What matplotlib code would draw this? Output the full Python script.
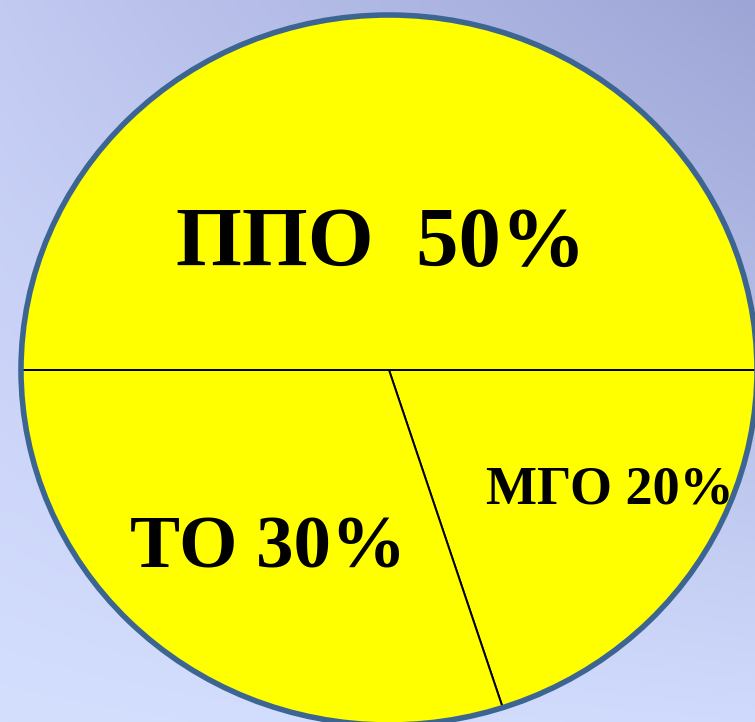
import numpy as np
import matplotlib.pyplot as plt

# Données
labels = ['МГО 20%', 'ТО 30%', 'ППО  50%']
values = [20, 30, 50]

W, H = 755, 722
fig = plt.figure(figsize=(W / 100, H / 100), dpi=100)

# Fond dégradé (coins : haut-gauche, haut-droit, bas-gauche, bas-droit)
tl = np.array([194, 202, 242]) / 255
tr = np.array([156, 165, 213]) / 255
bl = np.array([212, 222, 253]) / 255
br = np.array([208, 218, 252]) / 255
u = np.linspace(0, 1, 200)[None, :, None]
v = np.linspace(0, 1, 200)[:, None, None]
grad = (1 - v) * ((1 - u) * tl + u * tr) + v * ((1 - u) * bl + u * br)
bg = fig.add_axes([0, 0, 1, 1])
bg.imshow(grad, aspect='auto', extent=[0, 1, 0, 1], interpolation='bilinear')
bg.axis('off')

# Camembert (centre et rayons en pixels)
cx, cy, rx, ry = 389, 370, 368, 355
ax = fig.add_axes([0, 0, 1, 1])
ax.patch.set_alpha(0)
ax.pie(values, startangle=0, counterclock=False, colors=['#ffff00'] * 3,
       wedgeprops=dict(edgecolor='black', linewidth=1.4))
ax.set_aspect('auto')
ax.set_xlim(-cx / rx, (W - cx) / rx)
ax.set_ylim(-(H - cy) / ry, cy / ry)
ax.add_patch(plt.Circle((0, 0), 1.0, fill=False, edgecolor='#3d6592',
                        linewidth=4, zorder=5))
ax.axis('off')

# Étiquettes (position en pixels : x centre, y ligne de base)
pos = [(610, 504, 39), (268, 568, 54), (381, 266, 61)]
for lab, (px, py, fs) in zip(labels, pos):
    fig.text(px / W, 1 - py / H, lab, ha='center', va='baseline',
             fontsize=fs, fontweight='bold', family='Liberation Serif')

fig.savefig('out.png', dpi=100)
